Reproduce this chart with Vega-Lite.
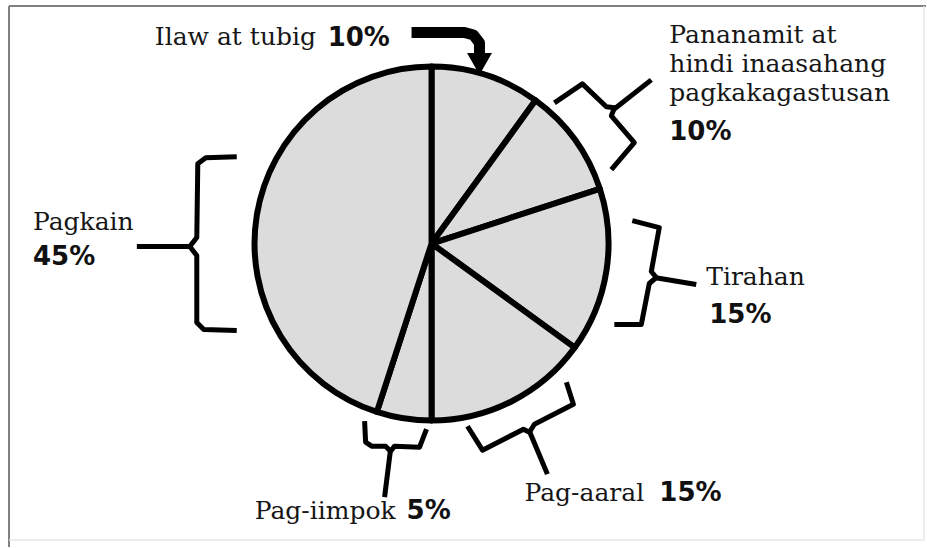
{
  "$schema": "https://vega.github.io/schema/vega-lite/v6.json",
  "width": 927,
  "height": 548,
  "padding": 0,
  "autosize": {"type": "fit", "contains": "padding"},
  "background": "white",
  "config": {"view": {"stroke": null}},
  "datasets": {
    "slices": [
      {"category": "Ilaw at tubig", "percent": 10, "order": 1},
      {"category": "Pananamit at hindi inaasahang pagkakagastusan", "percent": 10, "order": 2},
      {"category": "Tirahan", "percent": 15, "order": 3},
      {"category": "Pag-aaral", "percent": 15, "order": 4},
      {"category": "Pag-iimpok", "percent": 5, "order": 5},
      {"category": "Pagkain", "percent": 45, "order": 6}
    ],
    "labels": [
      {"text": "Ilaw at tubig", "part": "name", "x": 155, "y": 45},
      {"text": "10%", "part": "pct", "x": 328, "y": 46},
      {"text": "Pananamit at", "part": "name", "x": 670, "y": 43},
      {"text": "hindi inaasahang", "part": "name", "x": 670, "y": 72},
      {"text": "pagkakagastusan", "part": "name", "x": 670, "y": 101},
      {"text": "10%", "part": "pct", "x": 670, "y": 140},
      {"text": "Pagkain", "part": "name", "x": 33, "y": 230},
      {"text": "45%", "part": "pct", "x": 33, "y": 265},
      {"text": "Tirahan", "part": "name", "x": 707, "y": 286},
      {"text": "15%", "part": "pct", "x": 710, "y": 324},
      {"text": "Pag-aaral", "part": "name", "x": 525, "y": 502},
      {"text": "15%", "part": "pct", "x": 660, "y": 502},
      {"text": "Pag-iimpok", "part": "name", "x": 255, "y": 520},
      {"text": "5%", "part": "pct", "x": 407, "y": 520}
    ],
    "brackets": [
      {"id": "pagkain", "i": 1, "x": 237, "y": 157},
      {"id": "pagkain", "i": 2, "x": 206, "y": 158},
      {"id": "pagkain", "i": 3, "x": 198, "y": 164},
      {"id": "pagkain", "i": 4, "x": 197, "y": 238},
      {"id": "pagkain", "i": 5, "x": 190, "y": 247},
      {"id": "pagkain", "i": 6, "x": 197, "y": 256},
      {"id": "pagkain", "i": 7, "x": 197, "y": 323},
      {"id": "pagkain", "i": 8, "x": 204, "y": 330},
      {"id": "pagkain", "i": 9, "x": 237, "y": 331},
      {"id": "pagkain-leader", "i": 1, "x": 137, "y": 247},
      {"id": "pagkain-leader", "i": 2, "x": 190, "y": 247},
      {"id": "pananamit", "i": 1, "x": 555, "y": 103},
      {"id": "pananamit", "i": 2, "x": 583, "y": 84},
      {"id": "pananamit", "i": 3, "x": 607, "y": 107},
      {"id": "pananamit", "i": 4, "x": 615, "y": 108},
      {"id": "pananamit", "i": 5, "x": 612, "y": 116},
      {"id": "pananamit", "i": 6, "x": 635, "y": 143},
      {"id": "pananamit", "i": 7, "x": 612, "y": 170},
      {"id": "pananamit-leader", "i": 1, "x": 614, "y": 110},
      {"id": "pananamit-leader", "i": 2, "x": 652, "y": 80},
      {"id": "tirahan", "i": 1, "x": 633, "y": 221},
      {"id": "tirahan", "i": 2, "x": 660, "y": 228},
      {"id": "tirahan", "i": 3, "x": 652, "y": 272},
      {"id": "tirahan", "i": 4, "x": 657, "y": 278},
      {"id": "tirahan", "i": 5, "x": 650, "y": 284},
      {"id": "tirahan", "i": 6, "x": 642, "y": 325},
      {"id": "tirahan", "i": 7, "x": 615, "y": 325},
      {"id": "tirahan-leader", "i": 1, "x": 655, "y": 278},
      {"id": "tirahan-leader", "i": 2, "x": 697, "y": 285},
      {"id": "pagaaral", "i": 1, "x": 567, "y": 383},
      {"id": "pagaaral", "i": 2, "x": 574, "y": 405},
      {"id": "pagaaral", "i": 3, "x": 535, "y": 425},
      {"id": "pagaaral", "i": 4, "x": 530, "y": 433},
      {"id": "pagaaral", "i": 5, "x": 524, "y": 430},
      {"id": "pagaaral", "i": 6, "x": 483, "y": 451},
      {"id": "pagaaral", "i": 7, "x": 468, "y": 427},
      {"id": "pagaaral-leader", "i": 1, "x": 530, "y": 432},
      {"id": "pagaaral-leader", "i": 2, "x": 548, "y": 475},
      {"id": "pagiimpok", "i": 1, "x": 365, "y": 422},
      {"id": "pagiimpok", "i": 2, "x": 366, "y": 443},
      {"id": "pagiimpok", "i": 3, "x": 372, "y": 447},
      {"id": "pagiimpok", "i": 4, "x": 386, "y": 447},
      {"id": "pagiimpok", "i": 5, "x": 391, "y": 452},
      {"id": "pagiimpok", "i": 6, "x": 395, "y": 447},
      {"id": "pagiimpok", "i": 7, "x": 420, "y": 448},
      {"id": "pagiimpok", "i": 8, "x": 427, "y": 430},
      {"id": "pagiimpok-leader", "i": 1, "x": 391, "y": 450},
      {"id": "pagiimpok-leader", "i": 2, "x": 385, "y": 498}
    ],
    "arrow": [
      {"i": 1, "x": 412, "y": 32.5},
      {"i": 2, "x": 465, "y": 32.5},
      {"i": 3, "x": 474, "y": 35},
      {"i": 4, "x": 480, "y": 43},
      {"i": 5, "x": 480, "y": 57}
    ],
    "arrowhead": [{"x": 480, "y": 64}],
    "frame": [
      {"edge": "top", "x": 9, "y": 6, "x2": 927, "y2": 6},
      {"edge": "left", "x": 9, "y": 6, "x2": 9, "y2": 548},
      {"edge": "right", "x": 925, "y": 6, "x2": 925, "y2": 541},
      {"edge": "bottom", "x": 9, "y": 541, "x2": 925, "y2": 541}
    ]
  },
  "layer": [
    {
      "data": {"name": "frame"},
      "transform": [{"filter": "datum.edge === 'top' || datum.edge === 'left'"}],
      "mark": {"type": "rule", "stroke": "#808080", "strokeWidth": 2},
      "encoding": {
        "x": {"field": "x", "type": "quantitative", "scale": {"domain": [0, 927], "nice": false, "zero": false}, "axis": null},
        "y": {"field": "y", "type": "quantitative", "scale": {"domain": [0, 548], "nice": false, "zero": false, "reverse": true}, "axis": null},
        "x2": {"field": "x2"},
        "y2": {"field": "y2"}
      }
    },
    {
      "data": {"name": "frame"},
      "transform": [{"filter": "datum.edge === 'right' || datum.edge === 'bottom'"}],
      "mark": {"type": "rule", "stroke": "#e6e6e6", "strokeWidth": 1.5},
      "encoding": {
        "x": {"field": "x", "type": "quantitative"},
        "y": {"field": "y", "type": "quantitative"},
        "x2": {"field": "x2"},
        "y2": {"field": "y2"}
      }
    },
    {
      "data": {"name": "slices"},
      "mark": {"type": "arc", "radius": 177, "fill": "#dddcdd", "stroke": "black", "strokeWidth": 6, "strokeJoin": "round"},
      "encoding": {
        "theta": {"field": "percent", "type": "quantitative", "stack": true},
        "order": {"field": "order", "type": "quantitative"},
        "x": {"datum": 432, "type": "quantitative"},
        "y": {"datum": 244, "type": "quantitative"}
      }
    },
    {
      "data": {"name": "brackets"},
      "mark": {"type": "line", "stroke": "black", "strokeWidth": 5, "strokeJoin": "round", "strokeCap": "butt"},
      "encoding": {
        "x": {"field": "x", "type": "quantitative"},
        "y": {"field": "y", "type": "quantitative"},
        "detail": {"field": "id", "type": "nominal"},
        "order": {"field": "i", "type": "quantitative"}
      }
    },
    {
      "data": {"name": "arrow"},
      "mark": {"type": "line", "stroke": "black", "strokeWidth": 11, "strokeJoin": "round", "strokeCap": "butt"},
      "encoding": {
        "x": {"field": "x", "type": "quantitative"},
        "y": {"field": "y", "type": "quantitative"},
        "order": {"field": "i", "type": "quantitative"}
      }
    },
    {
      "data": {"name": "arrowhead"},
      "mark": {"type": "point", "shape": "triangle-down", "filled": true, "fill": "black", "stroke": null, "size": 620, "opacity": 1},
      "encoding": {
        "x": {"field": "x", "type": "quantitative"},
        "y": {"field": "y", "type": "quantitative"}
      }
    },
    {
      "data": {"name": "labels"},
      "transform": [{"filter": "datum.part === 'name'"}],
      "mark": {"type": "text", "align": "left", "baseline": "alphabetic", "font": "DejaVu Serif", "fontSize": 25, "fill": "#161616"},
      "encoding": {
        "x": {"field": "x", "type": "quantitative"},
        "y": {"field": "y", "type": "quantitative"},
        "text": {"field": "text"}
      }
    },
    {
      "data": {"name": "labels"},
      "transform": [{"filter": "datum.part === 'pct'"}],
      "mark": {"type": "text", "align": "left", "baseline": "alphabetic", "font": "DejaVu Sans", "fontWeight": "bold", "fontSize": 26, "fill": "#111111"},
      "encoding": {
        "x": {"field": "x", "type": "quantitative"},
        "y": {"field": "y", "type": "quantitative"},
        "text": {"field": "text"}
      }
    }
  ]
}
